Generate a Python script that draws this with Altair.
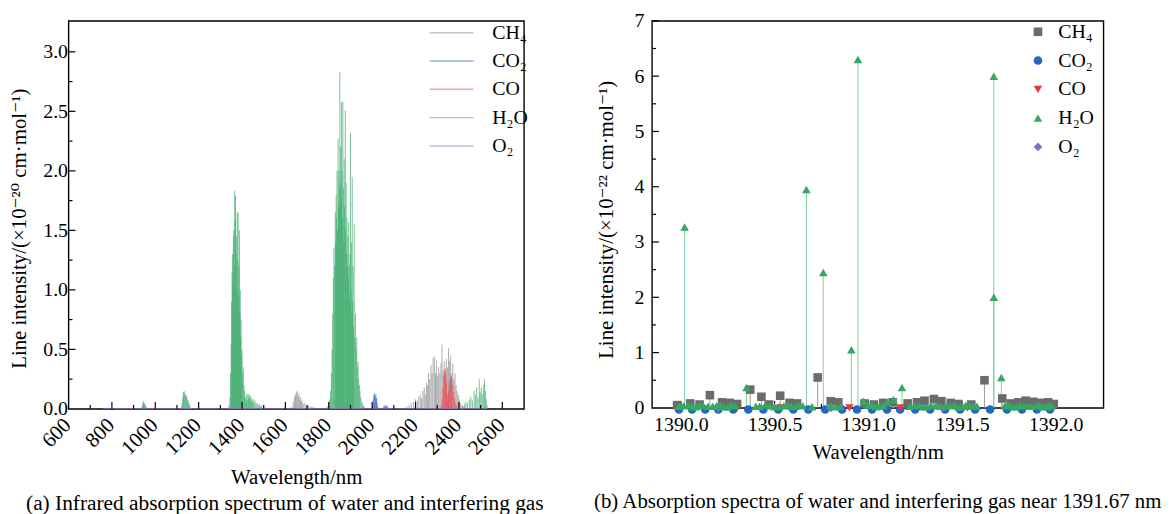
import altair as alt
import pandas as pd

FONT = "Liberation Serif, DejaVu Serif"
SPECIES = ["CH₄", "CO₂", "CO", "H₂O", "O₂"]

# ---------------- panel (a): line intensity, 10^-20 cm/mol ----------------
A_CH4_WL = [1630, 1636, 1642, 1646, 1650, 1654, 1658, 1662, 1666, 1670, 1674, 1678, 1684, 1690, 1698,
            1706, 1714, 1722, 1730, 1740,
            2150, 2160, 2170, 2180, 2190, 2200, 2208, 2215, 2222, 2228, 2234, 2240, 2245, 2250, 2255,
            2260, 2265, 2271, 2276, 2281, 2287, 2292, 2297, 2302, 2307, 2312, 2317, 2322, 2327, 2332,
            2337, 2342, 2347, 2352, 2357, 2362, 2367, 2372, 2377, 2382, 2387, 2392, 2397, 2402, 2408,
            2415, 2422, 2430]
A_CH4_I = [0.02, 0.06, 0.10, 0.12, 0.14, 0.15, 0.11, 0.13, 0.08, 0.10, 0.06, 0.07, 0.04, 0.05, 0.03,
           0.03, 0.02, 0.02, 0.015, 0.01,
           0.01, 0.02, 0.03, 0.05, 0.06, 0.08, 0.07, 0.10, 0.12, 0.09, 0.15, 0.18, 0.12, 0.22, 0.20,
           0.30, 0.25, 0.37, 0.30, 0.43, 0.44, 0.30, 0.41, 0.28, 0.35, 0.30, 0.38, 0.54, 0.32, 0.40,
           0.30, 0.42, 0.35, 0.51, 0.40, 0.45, 0.30, 0.38, 0.25, 0.30, 0.20, 0.15, 0.12, 0.08, 0.05,
           0.03, 0.02, 0.01]

A_CO2_WL = [1955, 1960, 1965, 2002, 2005, 2008, 2011, 2014, 2017, 2020, 2023, 2026,
            2050, 2054, 2058, 2062, 2066, 2070, 2074]
A_CO2_I = [0.01, 0.02, 0.01, 0.03, 0.08, 0.12, 0.13, 0.10, 0.12, 0.09, 0.05, 0.02,
           0.01, 0.025, 0.03, 0.02, 0.03, 0.02, 0.01]

A_CO_WL = [2318, 2322, 2326, 2330, 2334, 2337, 2340, 2343, 2346, 2349, 2352, 2355, 2358, 2362,
           2365, 2368, 2372, 2376, 2380, 2385, 2390, 2396]
A_CO_I = [0.02, 0.08, 0.18, 0.28, 0.33, 0.34, 0.30, 0.22, 0.12, 0.08, 0.15, 0.20, 0.24, 0.27,
          0.28, 0.25, 0.20, 0.14, 0.09, 0.05, 0.03, 0.01]

A_H2O_WL = [936, 940, 943, 946, 949, 952, 955, 958, 962,
            1120, 1124, 1127, 1130, 1133, 1136, 1139, 1142, 1145, 1148, 1151, 1154, 1157, 1160, 1164,
            1335, 1340, 1344, 1347, 1350, 1352, 1354, 1356, 1358, 1360, 1362, 1364, 1366, 1368, 1370,
            1372, 1374, 1376, 1378, 1380, 1382, 1384, 1386, 1388, 1390, 1392, 1394, 1396, 1398, 1400,
            1403, 1406, 1409, 1412, 1415, 1418, 1421, 1424, 1427, 1430, 1433, 1436, 1439, 1442, 1445,
            1448, 1452, 1456, 1460, 1465, 1470, 1475, 1480, 1485, 1490, 1500, 1510,
            1790, 1795, 1800, 1804, 1808, 1812, 1815, 1818, 1821, 1824, 1827, 1830, 1832, 1834, 1836,
            1838, 1840, 1843, 1845, 1847, 1849, 1851, 1853, 1855, 1857, 1859, 1861, 1863, 1865, 1867,
            1869, 1871, 1873, 1876, 1878, 1880, 1882, 1884, 1886, 1888, 1890, 1892, 1894, 1896, 1898,
            1900, 1902, 1904, 1906, 1908, 1910, 1912, 1914, 1917, 1920, 1923, 1926, 1929, 1932, 1935,
            1938, 1941, 1944, 1948, 1952, 1956, 1960,
            2405, 2415, 2425, 2432, 2440, 2448, 2455, 2462, 2470, 2476, 2482, 2488, 2494, 2498, 2503,
            2508, 2514, 2518, 2522, 2526, 2530]
A_H2O_I = [0.01, 0.03, 0.05, 0.065, 0.05, 0.04, 0.03, 0.015, 0.005,
           0.02, 0.05, 0.10, 0.14, 0.15, 0.13, 0.12, 0.10, 0.11, 0.08, 0.07, 0.05, 0.04, 0.02, 0.01,
           0.01, 0.03, 0.10, 0.30, 0.55, 0.90, 1.15, 1.30, 1.05, 1.45, 1.50, 1.20, 1.83, 1.60, 1.79,
           1.30, 1.45, 1.00, 1.65, 1.25, 1.65, 0.95, 1.20, 1.50, 0.80, 1.00, 0.60, 0.75, 0.45, 0.50,
           0.30, 0.35, 0.20, 0.15, 0.10, 0.08, 0.12, 0.07, 0.13, 0.10, 0.12, 0.08, 0.11, 0.07, 0.09,
           0.06, 0.08, 0.05, 0.07, 0.04, 0.05, 0.03, 0.04, 0.02, 0.03, 0.015, 0.01,
           0.01, 0.02, 0.04, 0.08, 0.15, 0.30, 0.50, 0.80, 1.10, 1.35, 1.20, 1.65, 1.40, 1.80, 1.60,
           2.00, 1.50, 2.27, 1.70, 2.00, 1.85, 2.83, 1.90, 2.20, 1.75, 2.58, 2.00, 1.60, 2.58, 1.85,
           1.40, 2.10, 1.70, 2.51, 1.50, 1.90, 1.30, 1.60, 1.20, 1.45, 1.10, 1.57, 1.20, 0.90, 1.30,
           2.32, 1.00, 1.40, 0.80, 1.95, 0.90, 1.20, 0.70, 1.55, 0.60, 0.80, 0.50, 0.60, 0.35, 0.40,
           0.25, 0.20, 0.15, 0.10, 0.06, 0.04, 0.02,
           0.01, 0.02, 0.04, 0.06, 0.05, 0.08, 0.10, 0.07, 0.15, 0.12, 0.18, 0.10, 0.25, 0.14, 0.18,
           0.12, 0.20, 0.25, 0.15, 0.08, 0.03]

A_O2_WL = [760, 1070, 1270, 1580, 1910, 2200, 2530]
A_O2_I = [0.003, 0.003, 0.003, 0.003, 0.003, 0.003, 0.003]

A_X_LABELS = [600, 800, 1000, 1200, 1400, 1600, 1800, 2000, 2200, 2400, 2600]
A_X_MINOR = [700, 900, 1100, 1300, 1500, 1700, 1900, 2100, 2300, 2500]
A_Y_LABELS = [0.0, 0.5, 1.0, 1.5, 2.0, 2.5, 3.0]
A_Y_MINOR = [0.25, 0.75, 1.25, 1.75, 2.25, 2.75]

# ---------------- panel (b): line intensity, 10^-22 cm/mol ----------------
B_H2O_WL = [1390.02, 1390.35, 1390.67, 1390.76, 1390.91, 1390.945, 1391.18, 1391.67, 1391.67, 1391.71,
            1390.975, 1391.10, 1391.135,
            1389.99, 1390.04, 1390.08, 1390.12, 1390.17, 1390.21, 1390.25, 1390.29, 1390.40, 1390.45,
            1390.50, 1390.55, 1390.59, 1390.63, 1390.70, 1390.80, 1390.85, 1391.00, 1391.04, 1391.08,
            1391.22, 1391.27, 1391.31, 1391.36, 1391.41, 1391.46, 1391.50, 1391.54, 1391.58, 1391.75,
            1391.79, 1391.83, 1391.87, 1391.91, 1391.95, 1391.98,
            1390.015, 1390.06, 1390.10, 1390.145, 1390.19, 1390.23, 1390.27, 1390.42, 1390.475,
            1390.525, 1390.57, 1390.61, 1390.65, 1390.825, 1391.02, 1391.06, 1391.245, 1391.29,
            1391.335, 1391.385, 1391.435, 1391.48, 1391.52, 1391.56, 1391.73, 1391.77, 1391.81,
            1391.85, 1391.89, 1391.93, 1391.965]
B_H2O_I = [3.27, 0.37, 3.95, 2.45, 1.05, 6.30, 0.37, 6.00, 2.00, 0.55,
           0.12, 0.10, 0.15,
           0.03, 0.05, 0.02, 0.04, 0.03, 0.05, 0.02, 0.04, 0.03, 0.05, 0.02, 0.04, 0.03, 0.05, 0.02,
           0.04, 0.03, 0.05, 0.02, 0.04, 0.03, 0.05, 0.02, 0.04, 0.03, 0.05, 0.02, 0.04, 0.03, 0.05,
           0.02, 0.04, 0.03, 0.05, 0.02, 0.04,
           0.04, 0.02, 0.05, 0.03, 0.04, 0.02, 0.05, 0.03, 0.04, 0.02, 0.05, 0.03, 0.04, 0.02, 0.05,
           0.03, 0.04, 0.02, 0.05, 0.03, 0.04, 0.02, 0.05, 0.03, 0.04, 0.02, 0.05, 0.03, 0.04, 0.02,
           0.05]

B_CH4_WL = [1390.155, 1390.37, 1390.43, 1390.53, 1390.73, 1391.62, 1391.715,
            1389.98, 1390.05, 1390.10, 1390.22, 1390.26, 1390.30, 1390.47, 1390.58, 1390.62, 1390.80,
            1390.84, 1390.98, 1391.03, 1391.08, 1391.13, 1391.21, 1391.26, 1391.30, 1391.35, 1391.39,
            1391.44, 1391.48, 1391.55, 1391.76, 1391.80, 1391.84, 1391.88, 1391.92, 1391.96, 1391.99]
B_CH4_I = [0.23, 0.33, 0.20, 0.22, 0.55, 0.50, 0.17,
           0.05, 0.08, 0.06, 0.10, 0.09, 0.07, 0.06, 0.09, 0.08, 0.12, 0.10, 0.08, 0.06, 0.09, 0.10,
           0.08, 0.10, 0.13, 0.16, 0.12, 0.09, 0.07, 0.06, 0.08, 0.10, 0.13, 0.11, 0.09, 0.10, 0.07]

B_CO2_WL = [1389.99, 1390.06, 1390.13, 1390.20, 1390.28, 1390.36, 1390.44, 1390.52, 1390.60, 1390.68,
            1390.77, 1390.86, 1390.94, 1391.02, 1391.10, 1391.17, 1391.25, 1391.33, 1391.41, 1391.49,
            1391.57, 1391.65, 1391.74, 1391.82, 1391.90, 1391.97]
B_CO2_I = [-0.03] * 26

B_CO_WL = [1390.30, 1390.53, 1390.90, 1391.17, 1391.53]
B_CO_I = [0.0, 0.0, 0.0, 0.0, 0.0]

B_O2_WL = [1390.20, 1390.80, 1391.40]
B_O2_I = [0.0, 0.0, 0.0]

B_X_LABELS = [1390.0, 1390.5, 1391.0, 1391.5, 1392.0]
B_X_MINOR = [1390.25, 1390.75, 1391.25, 1391.75]
B_Y_LABELS = [0, 1, 2, 3, 4, 5, 6, 7]
B_Y_MINOR = [0.5, 1.5, 2.5, 3.5, 4.5, 5.5, 6.5]

COLORS_A = ["#8a8a8a", "#2f62c6", "#ee4a4f", "#3caa6a", "#8e73c4"]
COLORS_B = ["#6b6b6e", "#2367c4", "#e8383d", "#35a864", "#8a6abf"]
SHAPES_B = ["square", "circle", "triangle-down", "triangle-up", "diamond"]
LINE_SYMBOL = "M-6.0,0H4.2"   # legend line, ~44 px long at symbol size 75, kept clear of labels


def frame(names, wls, vals):
    parts = []
    for n, w, v in zip(names, wls, vals):
        parts.append(pd.DataFrame({"wl": w, "I": v, "sp": n}))
    return pd.concat(parts, ignore_index=True)


W_A, H_A = 459, 391
W_B, H_B = 455, 390

# ---------- panel (a) ----------
xa = alt.Scale(domain=[600, 2700], nice=False, zero=False)
ya = alt.Scale(domain=[0, 3.26], nice=False, zero=False)
XA_TITLE = "Wavelength/nm"
YA_TITLE = "Line intensity/(×10⁻²⁰ cm·mol⁻¹)"

df_a = frame(["CH₄", "CO₂", "H₂O", "CO"],
             [A_CH4_WL, A_CO2_WL, A_H2O_WL, A_CO_WL],
             [A_CH4_I, A_CO2_I, A_H2O_I, A_CO_I])
df_a_o2 = frame(["O₂"], [A_O2_WL], [A_O2_I])

x_enc_a = alt.X("wl:Q", scale=xa, title=XA_TITLE,
                axis=alt.Axis(values=A_X_LABELS, format="d", labelAngle=-45, labelAlign="right",
                              labelBaseline="middle", labelPadding=13, labelOffset=-1, tickSize=0,
                              labelFontSize=21, labelOverlap=False, labelBound=False,
                              labelFlush=False, titlePadding=8))
y_enc_a = alt.Y("I:Q", scale=ya, title=YA_TITLE,
                axis=alt.Axis(values=A_Y_LABELS, format=".1f", labelPadding=1, tickSize=0,
                              labelOverlap=False, titlePadding=13, titleY=209))

spec_a = alt.Chart(df_a).mark_rule(strokeWidth=1, opacity=0.7).encode(
    x=x_enc_a, y=y_enc_a, y2=alt.datum(0),
    color=alt.Color("sp:N", scale=alt.Scale(domain=SPECIES, range=COLORS_A),
                    legend=alt.Legend(title=None, orient="none", legendX=380, legendY=2,
                                      symbolType=LINE_SYMBOL, symbolSize=75, symbolStrokeWidth=1.5,
                                      symbolOpacity=0.5, rowPadding=8.5, labelOffset=27,
                                      labelFontSize=20, labelFont=FONT, padding=0)),
)
o2_a = alt.Chart(df_a_o2).mark_line(strokeWidth=1.2, opacity=0.7, color=COLORS_A[4]).encode(
    x=x_enc_a, y=y_enc_a)

xt_a = alt.Chart(pd.DataFrame({"wl": A_X_LABELS[1:]})).mark_rule(color="black", strokeWidth=1.2).encode(
    x=x_enc_a, y=alt.value(H_A), y2=alt.value(H_A - 7))
xtm_a = alt.Chart(pd.DataFrame({"wl": A_X_MINOR})).mark_rule(color="black", strokeWidth=1.2).encode(
    x=x_enc_a, y=alt.value(H_A), y2=alt.value(H_A - 4))
yt_a = alt.Chart(pd.DataFrame({"I": A_Y_LABELS[1:]})).mark_rule(color="black", strokeWidth=1.2).encode(
    y=y_enc_a, x=alt.value(0), x2=alt.value(7))
ytm_a = alt.Chart(pd.DataFrame({"I": A_Y_MINOR})).mark_rule(color="black", strokeWidth=1.2).encode(
    y=y_enc_a, x=alt.value(0), x2=alt.value(4))

left = alt.layer(spec_a, o2_a, xt_a, xtm_a, yt_a, ytm_a).properties(
    width=W_A, height=H_A,
    title=alt.TitleParams("(a) Infrared absorption spectrum of water and interfering gas",
                          orient="bottom", anchor="middle", frame="group", offset=6, dx=-11.5,
                          fontSize=21.5, font=FONT, fontWeight="normal", color="black"),
)

# ---------- panel (b) ----------
xb = alt.Scale(domain=[1389.846, 1392.255], nice=False, zero=False)
yb = alt.Scale(domain=[0, 7], nice=False, zero=False)
XB_TITLE = "Wavelength/nm"
YB_TITLE = "Line intensity/(×10⁻²² cm·mol⁻¹)"

df_b_ch4 = frame(["CH₄"], [B_CH4_WL], [B_CH4_I])
df_b_h2o = frame(["H₂O"], [B_H2O_WL], [B_H2O_I])
df_b_pts = frame(["CO₂", "CO", "O₂", "CH₄", "H₂O"],
                 [B_CO2_WL, B_CO_WL, B_O2_WL, B_CH4_WL, B_H2O_WL],
                 [B_CO2_I, B_CO_I, B_O2_I, B_CH4_I, B_H2O_I])
df_b_pts["ord"] = range(len(df_b_pts))

x_enc_b = alt.X("wl:Q", scale=xb, title=XB_TITLE,
                axis=alt.Axis(values=B_X_LABELS, format=".1f", labelAngle=0, labelPadding=7,
                              tickSize=0, labelOverlap=False, titlePadding=7))
y_enc_b = alt.Y("I:Q", scale=yb, title=YB_TITLE,
                axis=alt.Axis(values=B_Y_LABELS, format="d", labelPadding=8, tickSize=0,
                              labelOverlap=False, titlePadding=18, titleY=200))

stem_ch4 = alt.Chart(df_b_ch4).mark_rule(strokeWidth=1, color="#9a9a9a").encode(
    x=x_enc_b, y=y_enc_b, y2=alt.datum(0))
stem_h2o = alt.Chart(df_b_h2o).mark_rule(strokeWidth=1, color="#7fd0a0").encode(
    x=x_enc_b, y=y_enc_b, y2=alt.datum(0))

LEG_B = alt.Legend(title=None, orient="none", legendX=379, legendY=1,
                   symbolSize=75, rowPadding=9, labelOffset=10.5,
                   labelFontSize=20, labelFont=FONT, padding=0)
pts_b = alt.Chart(df_b_pts).mark_point(filled=True, size=75, opacity=1).encode(
    x=x_enc_b, y=y_enc_b, order=alt.Order("ord:Q"),
    color=alt.Color("sp:N", scale=alt.Scale(domain=SPECIES, range=COLORS_B), legend=LEG_B),
    shape=alt.Shape("sp:N", scale=alt.Scale(domain=SPECIES, range=SHAPES_B), legend=LEG_B),
)
xt_b = alt.Chart(pd.DataFrame({"wl": B_X_LABELS})).mark_rule(color="black", strokeWidth=1.2).encode(
    x=x_enc_b, y=alt.value(H_B), y2=alt.value(H_B - 7))
xtm_b = alt.Chart(pd.DataFrame({"wl": B_X_MINOR})).mark_rule(color="black", strokeWidth=1.2).encode(
    x=x_enc_b, y=alt.value(H_B), y2=alt.value(H_B - 4))
yt_b = alt.Chart(pd.DataFrame({"I": B_Y_LABELS[1:]})).mark_rule(color="black", strokeWidth=1.2).encode(
    y=y_enc_b, x=alt.value(0), x2=alt.value(7))
ytm_b = alt.Chart(pd.DataFrame({"I": B_Y_MINOR})).mark_rule(color="black", strokeWidth=1.2).encode(
    y=y_enc_b, x=alt.value(0), x2=alt.value(4))

right = alt.layer(stem_ch4, stem_h2o, xt_b, xtm_b, yt_b, ytm_b, pts_b).properties(
    width=W_B, height=H_B,
    title=alt.TitleParams("(b) Absorption spectra of water and interfering gas near 1391.67 nm",
                          orient="bottom", anchor="middle", frame="group", offset=29,
                          fontSize=21, font=FONT, fontWeight="normal", color="black"),
)

chart = alt.hconcat(left, right, spacing=48).resolve_scale(
    color="independent", shape="independent", x="independent", y="independent"
).configure(
    padding={"left": 0, "top": 0, "right": 0, "bottom": 0}, background="white"
).configure_view(
    stroke="black", strokeWidth=1.4
).configure_axis(
    labelFont=FONT, titleFont=FONT, labelFontSize=20, titleFontSize=21, titleFontWeight="normal",
    labelColor="black", titleColor="black", grid=False, domain=False, ticks=False,
).configure_legend(labelFont=FONT, labelColor="black")

chart.save("out.html", embed_options={"renderer": "svg", "actions": False})
